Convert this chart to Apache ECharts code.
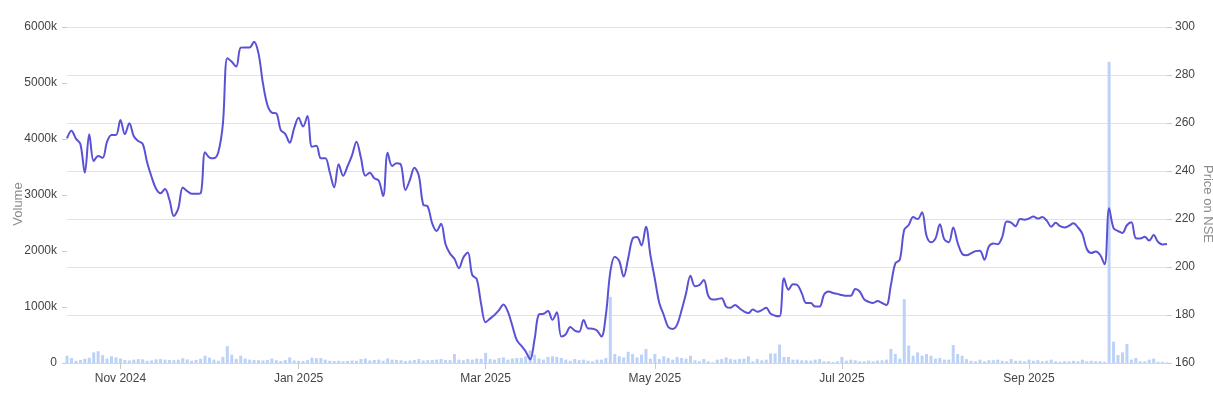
<!DOCTYPE html>
<html>
<head>
<meta charset="utf-8">
<script src="https://cdn.jsdelivr.net/npm/echarts@6/dist/echarts.min.js"></script>
<style>
html,body{margin:0;padding:0;background:#fff;}
#chart{width:1213px;height:400px;}
</style>
</head>
<body>
<div id="chart"></div>
<script>
// Trading days per month (NSE)
const tradingMonths = [
  ['2024-10', [16,17,18,21,22,23,24,25,28,29,30,31]],
  ['2024-11', [1,4,5,6,7,8,11,12,13,14,18,19,21,22,25,26,27,28,29]],
  ['2024-12', [2,3,4,5,6,9,10,11,12,13,16,17,18,19,20,23,24,26,27,30,31]],
  ['2025-01', [1,2,3,6,7,8,9,10,13,14,15,16,17,20,21,22,23,24,27,28,29,30,31]],
  ['2025-02', [3,4,5,6,7,10,11,12,13,14,17,18,19,20,21,24,25,27,28]],
  ['2025-03', [3,4,5,6,7,10,11,12,13,17,18,19,20,21,24,25,26,27,28]],
  ['2025-04', [1,2,3,4,7,8,9,11,15,16,17,21,22,23,24,25,28,29,30]],
  ['2025-05', [2,5,6,7,8,9,12,13,14,15,16,19,20,21,22,23,26,27,28,29,30]],
  ['2025-06', [2,3,4,5,6,9,10,11,12,13,16,17,18,19,20,23,24,25,26,27,30]],
  ['2025-07', [1,2,3,4,7,8,9,10,11,14,15,16,17,18,21,22,23,24,25,28,29,30,31]],
  ['2025-08', [1,4,5,6,7,8,11,12,13,14,18,19,20,21,22,25,26,28,29]],
  ['2025-09', [1,2,3,4,5,8,9,10,11,12,15,16,17,18,19,22,23,24,25,26,29,30]],
  ['2025-10', [1,3,6,7,8,9,10,13,14,15]]
];

const tickDates  = ['2024-11-01','2025-01-01','2025-03-03','2025-05-02','2025-07-01','2025-09-01'];
const tickLabels = ['Nov 2024','Jan 2025','Mar 2025','May 2025','Jul 2025','Sep 2025'];

// Closing price (NSE)
const price = [
253.6,256.8,253.5,251.3,239.3,255.3,244.2,246.3,245.5,252.2,255,255,261.2,255.3,259.9,254.5,252.5,251.3,243.5,237.5,
232.6,230.7,232.5,228,221.2,224.5,233.1,231.6,230.5,230.5,230.7,247.8,245.6,245.3,248,259.5,287,285.5,283.5,291.4,
291.5,291.5,293.9,289,276.5,267.5,264.3,264,257,255.5,251.8,257.8,262.2,258.5,262.9,250.1,250.5,245.3,245.3,239.5,
233.2,242.8,238,242,246.5,252.2,245.5,238,239.3,237,236,229.6,247.6,242.1,243.2,242.5,232.1,236.3,241.4,238,
226,225.2,218.2,215,218,209.5,205.6,203.4,199.5,204,206,196.6,195,184.5,177,178.5,180,182,184.4,181.4,
175.5,169.5,167.2,164.8,161.5,170,180.3,180.5,181.7,178,181.1,171,172,175,173.5,173,177.9,174.4,174.3,173.5,
171,180,198,204.3,202.5,196,203.5,211.8,212.5,209,216.8,205,195,185,180,175,174.2,176,182,189,
196.4,192,192.5,194.6,188,186.5,186.6,187,183.5,183,184.2,182.8,181.5,180.8,182.3,181.4,182,183,180.5,179.7,
179.5,195.3,190.5,192.8,192.5,189,185,185,183.5,183.5,188.5,189.8,189.2,188.8,188.3,188,188,190.8,189.8,186.5,
185.5,185,185.8,185,184.2,192.5,201.5,203,215.5,217.5,220.8,220,222.8,213,210.3,211.8,217.8,211.5,210.3,216.5,
210,205.5,204.9,205.7,206.6,206.8,203,208.5,209.8,209.5,212.5,219,218.5,217,220,219.7,220.2,221,220.2,220.8,
219.3,216.8,218.4,217,216.5,217.2,218.2,216.5,213.8,207.5,205.8,206.5,205,201.1,224.5,216.2,215,214.2,217.4,218.6,
212,211.9,212.6,211,213.3,210.4,209.4,209.6
];

// Volume in thousands of shares
const volumeK = [
130,90,40,55,75,95,190,210,140,80,120,100,80,55,45,60,70,65,40,45,
65,70,60,55,50,60,85,65,40,55,75,130,95,60,40,110,300,150,75,130,
80,60,55,50,45,55,80,50,35,55,100,45,40,35,50,95,85,90,60,40,
35,40,30,35,45,40,70,80,45,55,60,40,80,60,55,50,35,45,55,70,
45,50,55,60,70,55,50,160,60,50,70,60,80,75,180,70,60,90,100,60,
80,90,90,120,225,150,80,60,110,120,110,90,60,40,70,50,60,40,30,60,
60,90,1180,160,120,100,200,160,100,150,250,77,160,70,120,90,60,107,90,77,
130,48,30,70,30,12,60,70,100,70,60,70,77,120,30,70,48,60,170,170,
330,107,107,60,60,48,48,42,60,70,30,30,18,30,107,42,60,48,30,30,
42,30,42,48,60,250,160,77,1140,310,130,190,130,160,130,77,90,60,60,320,
160,130,70,40,30,60,30,50,50,60,40,30,70,40,40,30,60,40,50,30,
40,60,30,20,30,30,40,30,60,30,40,30,30,20,5380,380,143,190,340,60,
90,30,30,60,77,20,20,10
];

const dates = [];
tradingMonths.forEach(([ym, days]) => {
  days.forEach(d => dates.push(ym + '-' + String(d).padStart(2, '0')));
});
const volume = volumeK.map(v => v * 1000);
const tickIndex = {};
tickDates.forEach((d, k) => { tickIndex[d] = tickLabels[k]; });
const isTick = (idx, val) => Object.prototype.hasOwnProperty.call(tickIndex, val);

const FONT = "'Liberation Sans', Arial, sans-serif";
const chart = echarts.init(document.getElementById('chart'), null, {renderer: 'canvas'});
chart.setOption({
  animation: false,
  backgroundColor: '#ffffff',
  grid: {left: 67, right: 46, top: 27, bottom: 37, containLabel: false, outerBoundsMode: 'none'},
  xAxis: {
    type: 'category',
    data: dates,
    boundaryGap: false,
    axisLine: {show: true, lineStyle: {color: '#d9d9d9'}},
    axisTick: {show: true, interval: isTick, length: 6, lineStyle: {color: '#c8c8c8'}},
    axisLabel: {
      interval: isTick,
      formatter: v => tickIndex[v] || '',
      color: '#444', fontFamily: FONT, fontSize: 12, margin: 10
    },
    splitLine: {show: false}
  },
  yAxis: [
    {
      type: 'value', position: 'left',
      min: 0, max: 6000000, interval: 1000000,
      name: 'Volume', nameLocation: 'middle', nameGap: 42, nameRotate: 90,
      nameMoveOverlap: false,
      nameTextStyle: {color: '#8c8c8c', fontFamily: FONT, fontSize: 13, padding: [0, 18, 0, 0]},
      axisLine: {show: false},
      axisTick: {show: true, length: 5, lineStyle: {color: '#cccccc'}},
      axisLabel: {
        color: '#444', fontFamily: FONT, fontSize: 12, margin: 10,
        formatter: v => v === 0 ? '0' : (v / 1000) + 'k'
      },
      splitLine: {show: false}
    },
    {
      type: 'value', position: 'right',
      min: 160, max: 300, interval: 20,
      name: 'Price on NSE', nameLocation: 'middle', nameGap: 34, nameRotate: -90,
      nameMoveOverlap: false,
      nameTextStyle: {color: '#8c8c8c', fontFamily: FONT, fontSize: 13, padding: [0, 0, 0, 18]},
      axisLine: {show: false},
      axisTick: {show: true, length: 5, lineStyle: {color: '#cccccc'}},
      axisLabel: {color: '#444', fontFamily: FONT, fontSize: 12, margin: 8},
      splitLine: {show: true, lineStyle: {color: '#e2e2e2', width: 1}}
    }
  ],
  series: [
    {
      name: 'Volume', type: 'bar', yAxisIndex: 0,
      data: volume, barWidth: 3,
      itemStyle: {color: '#bcd2f7'},
      z: 1
    },
    {
      name: 'Price', type: 'line', yAxisIndex: 1,
      data: price, smooth: 0.35, showSymbol: false, symbol: 'none',
      lineStyle: {color: '#5a52d5', width: 2},
      z: 3
    }
  ]
});
</script>
</body>
</html>
